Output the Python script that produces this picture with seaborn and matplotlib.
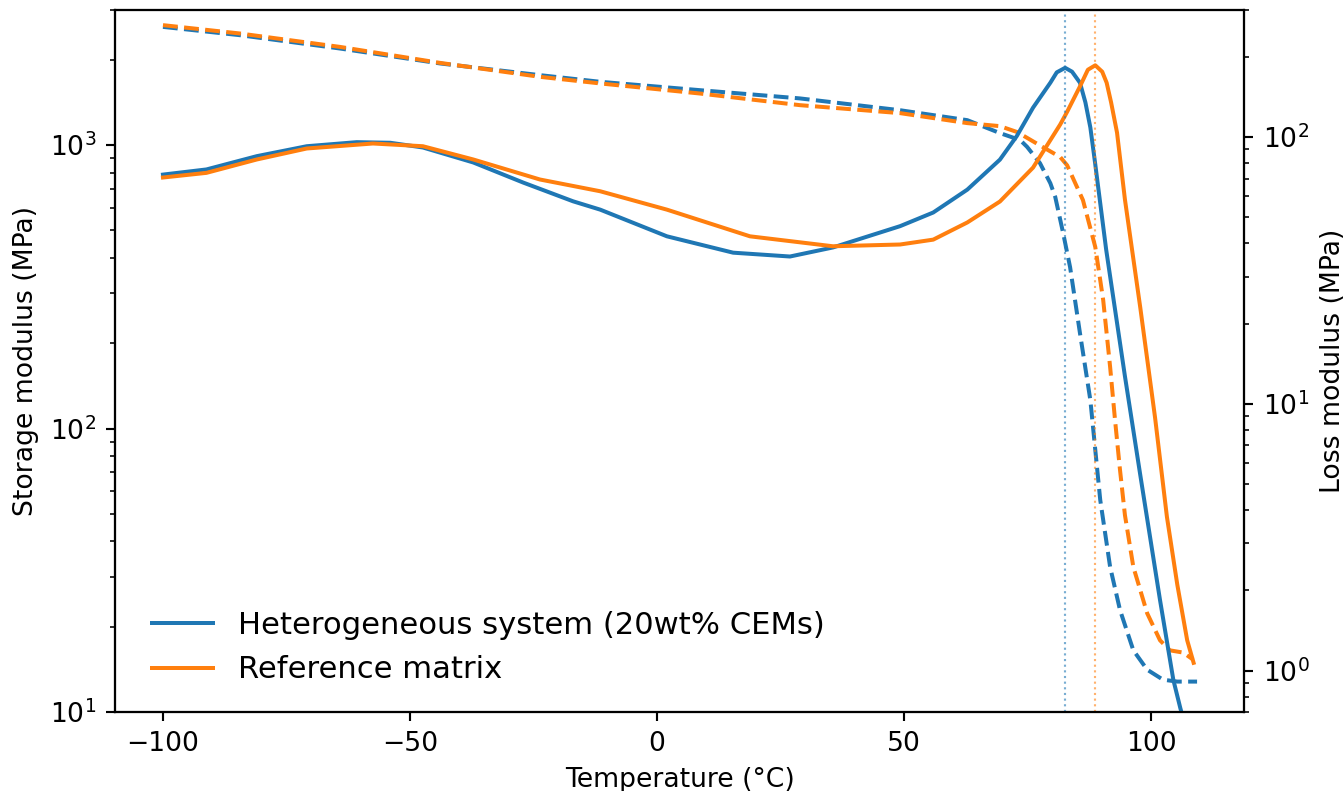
import numpy as np
import matplotlib
matplotlib.use("Agg")
import matplotlib.pyplot as plt
import seaborn as sns

# storage modulus (MPa), dashed, left axis
T_het_E = [-100, -84.4, -64.2, -43.9, -23.7, -11.5, 8.7, 28.9, 49.2, 62.8, 69.4, 73.5, 74.9,
           77.5, 79.6, 80.6, 82.2, 83.6, 85.6, 87.7, 89.7, 91.7, 93.7, 96.4, 99.2, 102.4, 105.3, 109.3]
E_het = [2614, 2443, 2193, 1942, 1766, 1673, 1563, 1462, 1328, 1225, 1103, 1042, 986,
         864, 734, 656, 489, 371, 217, 126, 56, 32.5, 22.9, 16.5, 14.1, 13.0, 12.8, 12.8]

T_ref_E = [-100, -84.4, -64.2, -43.9, -23.7, -11.5, 8.7, 28.9, 49.2, 62.8, 69.4, 72.9, 78.1,
           81.6, 83.0, 86.2, 88.7, 90.3, 91.7, 92.7, 93.7, 94.7, 96.4, 99.2, 101.8, 103.8, 106.5, 108.5]
E_ref = [2651, 2477, 2222, 1951, 1742, 1651, 1521, 1384, 1297, 1196, 1167, 1112, 984,
         908, 849, 640, 437, 284, 165, 107, 71.5, 49.5, 32.5, 22.3, 17.9, 16.5, 16.2, 15.3]

# loss modulus (MPa), solid, right axis
T_het_L = [-100, -91.2, -81.0, -70.9, -60.8, -54.0, -47.4, -37.2, -27.1, -17.0, -11.5, 2.0,
           15.4, 26.9, 35.6, 49.2, 55.9, 62.8, 69.4, 72.8, 76.1, 79.6, 80.9, 82.6, 84.0,
           85.6, 86.7, 87.7, 88.7, 90.9, 94.7, 97.8, 101.8, 104.5, 105.9, 107.1]
L_het = [72.4, 75.7, 84.9, 92.5, 95.8, 95.3, 91.5, 80.4, 67.6, 57.5, 53.5, 42.5,
         36.9, 35.7, 38.6, 46.4, 52.2, 63.6, 82.4, 100.9, 129, 160, 175, 182, 176,
         160, 135, 108.7, 79.0, 37.9, 12.7, 5.42, 1.84, 0.923, 0.725, 0.60]

T_ref_L = [-100, -91.2, -81.0, -70.9, -57.5, -47.4, -37.2, -23.7, -11.5, 2.0, 18.8, 35.6,
           49.2, 55.9, 62.8, 69.4, 76.1, 81.6, 83.0, 85.6, 87.2, 88.7, 90.1, 91.0, 91.9,
           93.1, 94.7, 97.8, 100.8, 103.2, 105.3, 107.3, 108.6]
L_ref = [70.6, 73.5, 82.5, 90.7, 94.7, 92.5, 82.5, 69.4, 62.7, 53.5, 42.5, 39.0,
         39.6, 41.3, 47.9, 57.4, 76.9, 111.6, 124.5, 155, 179, 186, 176, 160, 135,
         104, 58.4, 23.0, 8.88, 3.77, 2.10, 1.30, 1.07]

labels = ['Heterogeneous system (20wt% CEMs)', 'Reference matrix']
blue, orange = '#1f77b4', '#ff7f0e'

fig, ax = plt.subplots(figsize=(7, 4.12), dpi=192)
fig.subplots_adjust(left=0.0856, right=0.9256, bottom=0.0999, top=0.9874)
ax2 = ax.twinx()

sns.lineplot(x=T_het_E, y=E_het, ax=ax, color=blue, linestyle='--', lw=1.5)
sns.lineplot(x=T_ref_E, y=E_ref, ax=ax, color=orange, linestyle='--', lw=1.5)
sns.lineplot(x=T_het_L, y=L_het, ax=ax2, color=blue, lw=1.5, label=labels[0])
sns.lineplot(x=T_ref_L, y=L_ref, ax=ax2, color=orange, lw=1.5, label=labels[1])

# peak of loss modulus
for T, L, c in [(T_het_L, L_het, blue), (T_ref_L, L_ref, orange)]:
    ax2.axvline(T[int(np.argmax(L))], color=c, ls=':', lw=0.8, alpha=0.6)

ax.set_yscale('log')
ax2.set_yscale('log')
ax.set_xlim(-109.7, 118.8)
ax.set_ylim(10, 3000)
ax2.set_ylim(0.70, 300)

ax.set_xlabel('Temperature (°C)')
ax.set_ylabel('Storage modulus (MPa)')
ax2.set_ylabel('Loss modulus (MPa)')
ax2.legend(loc='lower left', bbox_to_anchor=(0.022, 0.022), borderaxespad=0,
           frameon=False, fontsize=11.5)

plt.savefig('out.png', dpi=192)
plt.close()
